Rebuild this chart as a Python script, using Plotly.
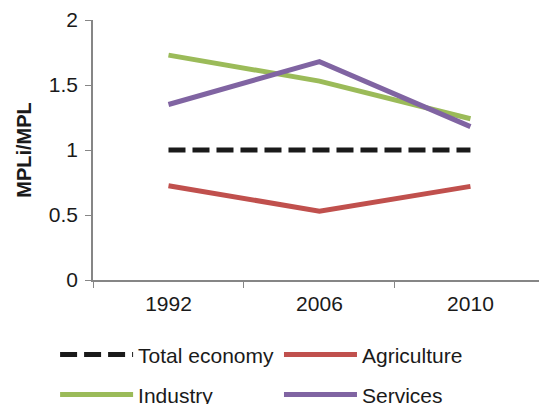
import plotly.graph_objects as go

years = ["1992", "2006", "2010"]
total_economy = [1.0, 1.0, 1.0]
agriculture = [0.725, 0.53, 0.72]
industry = [1.73, 1.53, 1.24]
services = [1.35, 1.68, 1.18]

y_ticks = [0, 0.5, 1, 1.5, 2]
y_tick_text = ["0", "0.5", "1", "1.5", "2"]

FONT = "Liberation Sans, Arial, sans-serif"
TEXT = "#1a1a1a"
AXIS = "#868686"

fig = go.Figure()
fig.add_trace(go.Scatter(x=years, y=total_economy, name="Total economy", mode="lines",
                         line=dict(color=TEXT, width=5, dash="17px,7px"), legend="legend"))
fig.add_trace(go.Scatter(x=years, y=agriculture, name="Agriculture", mode="lines",
                         line=dict(color="#C0504D", width=5), legend="legend2"))
fig.add_trace(go.Scatter(x=years, y=industry, name="Industry", mode="lines",
                         line=dict(color="#9BBB59", width=5), legend="legend3"))
fig.add_trace(go.Scatter(x=years, y=services, name="Services", mode="lines",
                         line=dict(color="#8064A2", width=5), legend="legend4"))


def legend_box(x, y):
    # one legend entry per box, laid out as a 2x2 grid below the axis
    return dict(orientation="h", xanchor="left", yanchor="middle", x=x, y=y,
                font=dict(family=FONT, size=21, color=TEXT),
                itemwidth=73, bgcolor="rgba(0,0,0,0)")


col_left, col_right = -0.085, 0.417
row_top, row_bottom = -0.288, -0.442

fig.update_layout(
    width=539, height=404,
    margin=dict(l=93, r=0, t=20, b=124, autoexpand=False),
    paper_bgcolor="white", plot_bgcolor="white",
    font=dict(family=FONT, size=21, color=TEXT),
    showlegend=True,
    legend=legend_box(col_left, row_top),
    legend2=legend_box(col_right, row_top),
    legend3=legend_box(col_left, row_bottom),
    legend4=legend_box(col_right, row_bottom),
    xaxis=dict(type="category", range=[-0.5, 2.454], showgrid=False, zeroline=False,
               showline=True, linecolor=AXIS, linewidth=1.5,
               ticks="outside", tickson="boundaries", ticklen=6, tickcolor=AXIS,
               ticklabelstandoff=4,
               tickfont=dict(family=FONT, size=21, color=TEXT)),
    yaxis=dict(range=[0, 2], tickvals=y_ticks, ticktext=y_tick_text, showgrid=False,
               zeroline=False, showline=True, linecolor=AXIS, linewidth=1.5,
               ticks="outside", ticklen=6, tickcolor=AXIS, ticklabelstandoff=3,
               tickfont=dict(family=FONT, size=21, color=TEXT),
               title=dict(text="<b>MPLi/MPL</b>", font=dict(family=FONT, size=20, color=TEXT),
                          standoff=12)),
)

fig.write_html("out.html")
